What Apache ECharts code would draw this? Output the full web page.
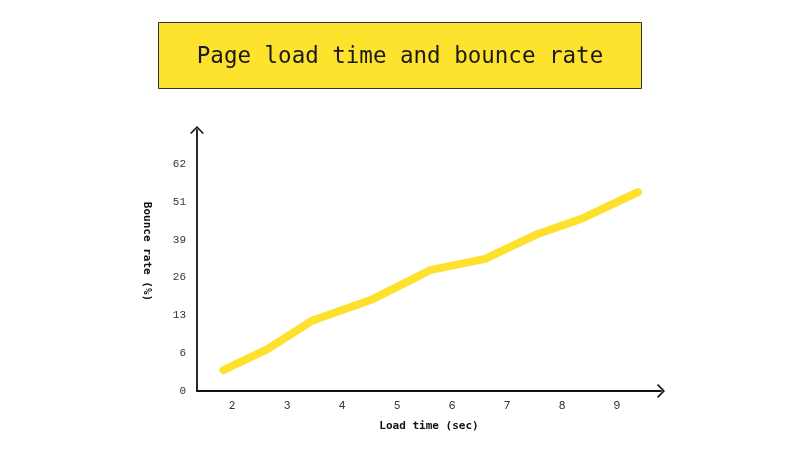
<!DOCTYPE html>
<html>
<head>
<meta charset="utf-8">
<script src="https://cdn.jsdelivr.net/npm/echarts@6/dist/echarts.min.js"></script>
<style>
html,body{margin:0;padding:0;background:#fff;}
#chart{width:800px;height:472px;}
</style>
</head>
<body>
<div id="chart"></div>
<script>
var titleText = 'Page load time and bounce rate';
var xName = 'Load time (sec)';
var yName = 'Bounce rate (%)';
var loadTime = [1.84, 2.65, 3.44, 4.53, 5.6, 6.6, 7.56, 8.38, 9.38];
var bounceRate = [5.7, 11.5, 19.1, 24.9, 33.0, 36.1, 42.9, 47.2, 54.3];
var xTicks = [2, 3, 4, 5, 6, 7, 8, 9];
var yTickLabels = ['0', '6', '13', '26', '39', '51', '62'];
var yTop = 62;

var yStep = yTop / (yTickLabels.length - 1);
var yTickValues = yTickLabels.map(function (l, i) { return i * yStep; });
var seriesData = loadTime.map(function (x, i) { return [x, bounceRate[i]]; });

var chevron = 'path://M10,0 L20,10 L18.4,11.6 L10,3.2 L1.6,11.6 L0,10 Z';
var mono = '"DejaVu Sans Mono", monospace';

var chart = echarts.init(document.getElementById('chart'));
chart.setOption({
  animation: false,
  backgroundColor: '#ffffff',
  graphic: [
    {
      type: 'rect',
      shape: { x: 158.5, y: 22.5, width: 483, height: 66 },
      style: { fill: '#FDE22E', stroke: '#333333', lineWidth: 1 }
    },
    {
      type: 'text',
      x: 400, y: 57,
      style: {
        text: titleText, fill: '#1a1a1a',
        font: '22.5px ' + mono,
        align: 'center', verticalAlign: 'middle'
      }
    }
  ],
  grid: { left: 197, right: 139, top: 130, bottom: 81, containLabel: false },
  xAxis: {
    type: 'value',
    min: 1.36, max: 9.8,
    name: xName,
    nameLocation: 'middle',
    nameGap: 30,
    nameTextStyle: { fontFamily: mono, fontWeight: 'bold', fontSize: 11, color: '#111' },
    splitLine: { show: false },
    axisTick: { show: false },
    axisLine: {
      show: true,
      symbol: ['none', chevron],
      symbolSize: [15, 8],
      symbolOffset: [0, 0],
      lineStyle: { color: '#111', width: 1.8 }
    },
    axisLabel: {
      customValues: xTicks,
      margin: 9,
      fontFamily: 'Inter, "Liberation Sans", sans-serif',
      fontSize: 11,
      color: '#333'
    }
  },
  yAxis: {
    type: 'value',
    min: 0, max: 71.3,
    name: yName,
    nameLocation: 'middle',
    nameRotate: -90,
    nameGap: 45,
    nameTextStyle: { fontFamily: mono, fontWeight: 'bold', fontSize: 11, color: '#111', padding: [0, 18, 0, 0] },
    splitLine: { show: false },
    axisTick: { show: false },
    axisLine: {
      show: true,
      symbol: ['none', chevron],
      symbolSize: [15, 8],
      symbolOffset: [0, 0],
      lineStyle: { color: '#111', width: 1.8 }
    },
    axisLabel: {
      customValues: yTickValues,
      margin: 11,
      fontFamily: '"Liberation Mono", monospace',
      fontSize: 11,
      color: '#333',
      formatter: function (v) {
        return yTickLabels[Math.round(v / yStep)];
      }
    }
  },
  series: [{
    type: 'line',
    data: seriesData,
    symbol: 'none',
    lineStyle: { color: '#FDE12D', width: 8, cap: 'round', join: 'round' },
    silent: true
  }]
});
</script>
</body>
</html>
